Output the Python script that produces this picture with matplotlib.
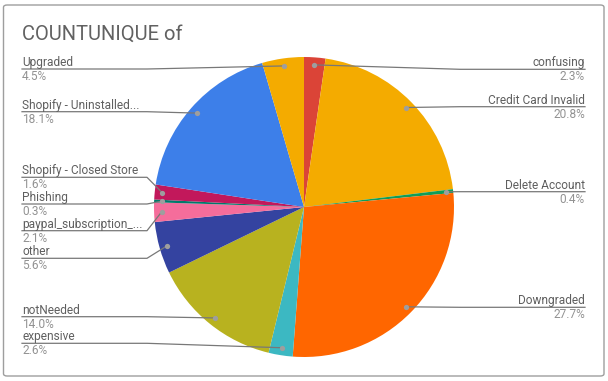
"""Camembert COUNTUNIQUE : raisons de départ (style Google Sheets)."""

import numpy as np
import matplotlib

matplotlib.use("Agg")
import matplotlib.pyplot as plt
from matplotlib.patches import FancyBboxPatch

plt.rcParams["font.family"] = ["Roboto", "DejaVu Sans"]

# Données (ordre horaire depuis midi)
categories = ["confusing", "Credit Card Invalid", "Delete Account", "Downgraded",
              "expensive", "notNeeded", "other", "paypal_subscription_...",
              "Phishing", "Shopify - Closed Store", "Shopify - Uninstalled...",
              "Upgraded"]
parts = [2.3, 20.8, 0.4, 27.7, 2.6, 14.0, 5.6, 2.1, 0.3, 1.6, 18.1, 4.5]
couleurs = ["#db4437", "#f4ab00", "#0f9d58", "#ff6600", "#3cb8c2", "#b8b21f",
            "#3443a0", "#f56d9b", "#00796b", "#c2185b", "#3d7fe9", "#f4ab00"]

# Mise en page des étiquettes : côté et ordonnée (pixels) du trait
cotes = ["R", "R", "R", "R", "L", "L", "L", "L", "L", "L", "L", "L"]
y_traits = [69.3, 106.7, 191.7, 307.3, 343.3, 316.7, 258.3, 230.7, 204.0,
            177.3, 111.7, 69.0]

W, H = 608, 381
CX, CY, R = 304, 207, 150

fig = plt.figure(figsize=(W / 100, H / 100), dpi=100)
fig.patch.set_facecolor("white")

# cadre arrondi
cadre = FancyBboxPatch((3.5 / W, 5 / H), 600.5 / W, 371 / H,
                       boxstyle="round,pad=0,rounding_size=0.006",
                       transform=fig.transFigure, facecolor="none",
                       edgecolor="#9e9e9e", linewidth=1.0)
fig.add_artist(cadre)

fig.text(22 / W, 1 - 40 / H, "COUNTUNIQUE of", fontsize=14.5,
         color="#616161", ha="left", va="baseline")

ax = fig.add_axes([(CX - R) / W, (H - CY - R) / H, 2 * R / W, 2 * R / H])
wedges, _ = ax.pie(parts, colors=couleurs, startangle=90, counterclock=False,
                   radius=1.0, wedgeprops=dict(linewidth=0))
ax.set_xlim(-1, 1)
ax.set_ylim(-1, 1)
ax.axis("off")


def dx(px):
    return (px - CX) / R


def dy(py):
    return (CY - py) / R


for w, nom, p, cote, yt in zip(wedges, categories, parts, cotes, y_traits):
    ang = np.deg2rad((w.theta1 + w.theta2) / 2)
    xd, yd = 0.95 * np.cos(ang), 0.95 * np.sin(ang)
    if cote == "L":
        x_txt, x_coude, ha = 22, 147, "left"
    else:
        x_txt, x_coude, ha = 585, 460, "right"
    ax.plot([dx(x_txt), dx(x_coude), xd], [dy(yt), dy(yt), yd],
            color="#787878", linewidth=0.9, clip_on=False, zorder=3)
    ax.plot([xd], [yd], "o", color="#9e9e9e", markersize=3.8,
            markeredgewidth=0, clip_on=False, zorder=4)
    ax.text(dx(x_txt), dy(yt - 3), nom, fontsize=8.6, color="#5f5f5f",
            ha=ha, va="baseline", clip_on=False)
    ax.text(dx(x_txt), dy(yt + 11), f"{p:.1f}%", fontsize=8.6,
            color="#929292", ha=ha, va="baseline", clip_on=False)

fig.savefig("out.png", dpi=100)
